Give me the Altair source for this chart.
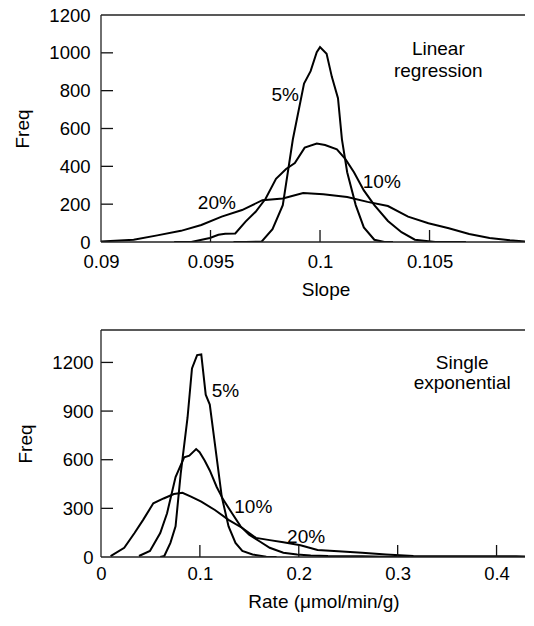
import altair as alt
import pandas as pd

FONT = "Liberation Sans"

# ---------------- Top panel: Linear regression (Slope) ----------------
lin5_x = [0.09605, 0.0966, 0.09734, 0.09783, 0.0983, 0.09876, 0.09927, 0.09957, 0.09985, 0.1,
          0.1003, 0.10054, 0.10082, 0.101, 0.10124, 0.10163, 0.102, 0.10248, 0.10294, 0.10333]
lin5_y = [0, 0, 3, 68, 195, 543, 838, 903, 1003, 1030,
          995, 873, 760, 543, 369, 195, 77, 12, 0, 0]

lin10_x = [0.09334, 0.09412, 0.09497, 0.09536, 0.09567, 0.09613, 0.0966, 0.09706, 0.09752, 0.09799,
           0.09845, 0.09885, 0.0993, 0.09985, 0.10023, 0.10077, 0.10116, 0.10155, 0.102, 0.10248,
           0.1031, 0.10372, 0.10433, 0.10526, 0.1062, 0.10666]
lin10_y = [0, 0, 21, 38, 43, 45, 108, 160, 230, 334,
           386, 417, 499, 520, 513, 490, 438, 369, 273, 195,
           111, 52, 12, 0, 0, 0]

lin20_x = [0.09, 0.09149, 0.09257, 0.09365, 0.09458, 0.09551, 0.09644, 0.09737, 0.0983, 0.09923,
           0.10015, 0.10124, 0.10217, 0.1031, 0.10402, 0.10495, 0.10588, 0.10681, 0.10774, 0.10867,
           0.10972]
lin20_y = [3, 12, 35, 59, 90, 134, 169, 221, 230, 259,
           252, 238, 212, 190, 134, 99, 73, 42, 21, 9,
           0]

top_ann_text = ["5%", "10%", "20%", "Linear", "regression"]
top_ann_x = [0.09841, 0.10282, 0.09529, 0.1054, 0.1054]
top_ann_y = [748, 285, 174, 986, 870]

top_xticks = [0.09, 0.095, 0.1, 0.105]
top_yticks = [0, 200, 400, 600, 800, 1000, 1200]

# ---------------- Bottom panel: Single exponential (Rate) ----------------
exp5_x = [0.0599, 0.064, 0.0702, 0.0754, 0.0806, 0.0875, 0.092, 0.0972, 0.1014, 0.1059,
          0.11, 0.1152, 0.1221, 0.129, 0.136, 0.1429, 0.1533, 0.1671, 0.1775]
exp5_y = [0, 6, 87, 189, 514, 859, 1163, 1245, 1249, 1001,
          940, 696, 372, 189, 87, 37, 16, 2, 0]

exp10_x = [0.0384, 0.0495, 0.0599, 0.0668, 0.0754, 0.0841, 0.0893, 0.0962, 0.0997, 0.1048,
           0.11, 0.117, 0.1239, 0.1325, 0.1412, 0.1498, 0.1602, 0.1706, 0.1844, 0.1983,
           0.2121, 0.2294, 0.264, 0.2986, 0.312]
exp10_y = [6, 37, 148, 270, 493, 615, 625, 666, 646, 595,
           534, 432, 351, 270, 189, 138, 97, 57, 26, 16,
           10, 6, 4, 0, 0]

exp20_x = [0.0097, 0.0235, 0.0339, 0.0426, 0.0529, 0.0633, 0.0737, 0.0824, 0.091, 0.1014,
           0.1152, 0.129, 0.1429, 0.1567, 0.1706, 0.1844, 0.2017, 0.219, 0.2398, 0.264,
           0.2882, 0.3159, 0.3505, 0.3851, 0.4197, 0.4433, 0.45]
exp20_y = [6, 57, 148, 229, 331, 361, 388, 396, 372, 341,
           290, 229, 179, 118, 104, 91, 73, 43, 35, 26,
           16, 6, 4, 4, 4, 0, 0]

bot_ann_text = ["5%", "10%", "20%", "Single", "exponential"]
bot_ann_x = [0.1259, 0.154, 0.2074, 0.3653, 0.3653]
bot_ann_y = [985, 270, 88, 1159, 1037]

bot_xticks = [0, 0.1, 0.2, 0.3, 0.4]
bot_yticks = [0, 300, 600, 900, 1200]


def series_df(pairs):
    rows = []
    for name, xs, ys in pairs:
        for i, (a, b) in enumerate(zip(xs, ys)):
            rows.append({"s": name, "i": i, "x": a, "y": b})
    return pd.DataFrame(rows)


def panel(lines_df, ann_df, xdom, ydom, xvals, yvals, xfmt, xtitle, w, h,
          xlabpad, xtitlepad, ylabpad, ytitlepad, inner_x, inner_y):
    X = alt.X("x:Q", scale=alt.Scale(domain=xdom, nice=False, zero=False), axis=alt.Axis(
        values=xvals, format=xfmt, title=xtitle, ticks=False, domain=False, grid=False,
        labelPadding=xlabpad, titlePadding=xtitlepad, labelFlush=False, labelOverlap=False))
    Y = alt.Y("y:Q", scale=alt.Scale(domain=ydom, nice=False, zero=False), axis=alt.Axis(
        values=yvals, format="d", title="Freq", ticks=False, domain=False, grid=False,
        labelPadding=ylabpad, titlePadding=ytitlepad, labelFlush=False, labelOverlap=False))
    lines = alt.Chart(lines_df).mark_line(color="black", strokeWidth=2, clip=True).encode(
        x=X, y=Y, detail="s:N", order="i:Q",
    )
    text = alt.Chart(ann_df).mark_text(
        font=FONT, fontSize=19, baseline="alphabetic", align="center", color="black"
    ).encode(x=X, y=Y, text="t:N")
    xt = alt.Chart(pd.DataFrame({"x": inner_x})).mark_rule(color="#111", strokeWidth=1.3).encode(
        x=X, y=alt.value(h - 12), y2=alt.value(h),
    )
    yt = alt.Chart(pd.DataFrame({"y": inner_y})).mark_rule(color="#111", strokeWidth=1.3).encode(
        y=Y, x=alt.value(0), x2=alt.value(12),
    )
    one = pd.DataFrame({"k": [0]})
    frame_top = alt.Chart(one).mark_rule(color="#222", strokeWidth=1.3).encode(
        x=alt.value(0), x2=alt.value(w), y=alt.value(0))
    frame_left = alt.Chart(one).mark_rule(color="#222", strokeWidth=1.3).encode(
        x=alt.value(0), y=alt.value(0), y2=alt.value(h))
    frame_bottom = alt.Chart(one).mark_rule(color="#222", strokeWidth=1.3).encode(
        x=alt.value(0), x2=alt.value(w), y=alt.value(h))
    return alt.layer(lines, xt, yt, frame_top, frame_left, frame_bottom, text).properties(
        width=w, height=h)


top_lines = series_df([("5%", lin5_x, lin5_y), ("10%", lin10_x, lin10_y), ("20%", lin20_x, lin20_y)])
top_ann = pd.DataFrame({"t": top_ann_text, "x": top_ann_x, "y": top_ann_y})
bot_lines = series_df([("5%", exp5_x, exp5_y), ("10%", exp10_x, exp10_y), ("20%", exp20_x, exp20_y)])
bot_ann = pd.DataFrame({"t": bot_ann_text, "x": bot_ann_x, "y": bot_ann_y})

top = panel(top_lines, top_ann, [0.09, 0.1105], [0, 1200], top_xticks, top_yticks, ".3~f", "Slope",
            449, 227, 10, 10, 11, 16, [0.095, 0.1, 0.105], [200, 400, 600, 800, 1000])
bottom = panel(bot_lines, bot_ann, [0, 0.45], [0, 1400], bot_xticks, bot_yticks, ".1~f",
               "Rate (\u03bcmol/min/g)", 445, 227, 7, 10, 8, 16,
               [0.1, 0.2, 0.3, 0.4], [300, 600, 900, 1200])

chart = alt.vconcat(top, bottom, spacing=28).properties(
    padding={"left": 5, "top": -3, "right": -27, "bottom": 0}
).configure_view(
    stroke="transparent"
).configure_axis(
    labelFont=FONT, titleFont=FONT, labelFontSize=18.5, titleFontSize=19,
    labelColor="black", titleColor="black", titleFontWeight="normal"
)

chart.save("out.html", embed_options={"renderer": "svg", "actions": False})
